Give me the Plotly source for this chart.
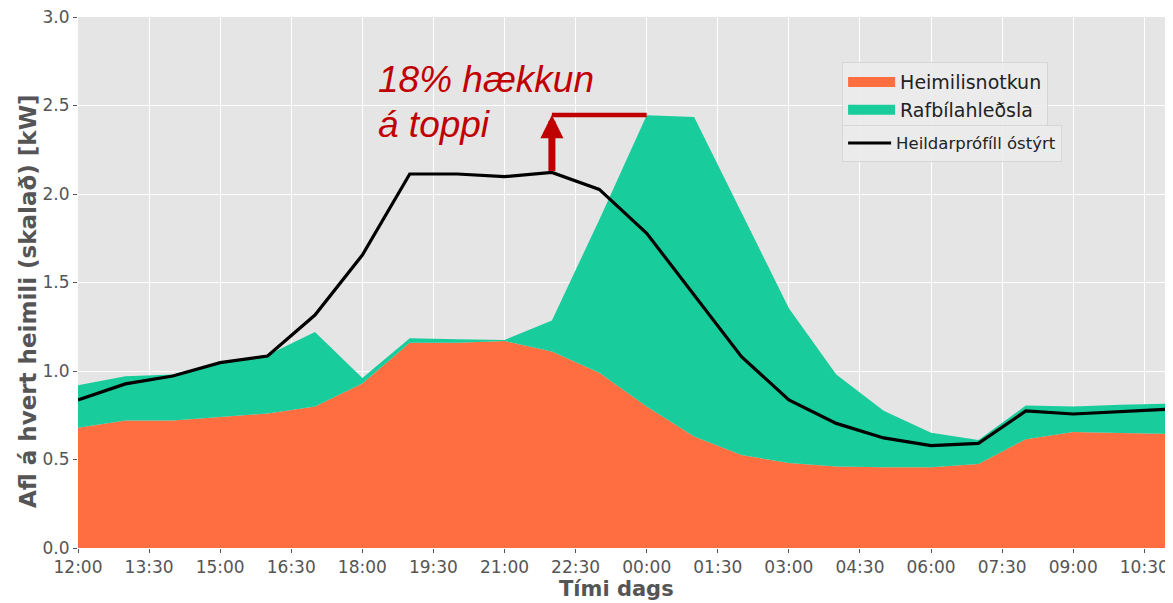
import plotly.graph_objects as go

# hours since 12:00
hours = list(range(24))
tick_vals = [0, 1.5, 3, 4.5, 6, 7.5, 9, 10.5, 12, 13.5, 15, 16.5, 18, 19.5, 21, 22.5]
tick_text = ["12:00", "13:30", "15:00", "16:30", "18:00", "19:30", "21:00", "22:30",
             "00:00", "01:30", "03:00", "04:30", "06:00", "07:30", "09:00", "10:30"]

household = [0.68, 0.72, 0.72, 0.74, 0.76, 0.80, 0.93, 1.16, 1.16, 1.17, 1.11, 0.99,
             0.80, 0.63, 0.525, 0.48, 0.46, 0.456, 0.456, 0.475, 0.615, 0.655, 0.65, 0.645]
ev_charging = [0.24, 0.25, 0.26, 0.31, 0.33, 0.42, 0.03, 0.025, 0.02, 0.005, 0.175, 0.865,
               1.645, 1.805, 1.37, 0.875, 0.52, 0.32, 0.195, 0.135, 0.19, 0.145, 0.16, 0.17]
total_unmanaged = [0.836, 0.927, 0.972, 1.047, 1.085, 1.316, 1.655, 2.113, 2.113, 2.098, 2.122, 2.026,
                   1.778, 1.429, 1.081, 0.836, 0.704, 0.622, 0.578, 0.591, 0.774, 0.757, 0.77, 0.784]

peak_hour = 10
peak_start_value = 2.122
peak_new_value = 2.446
peak_line_end = 12

ORANGE = "#FF6E40"
GREEN = "#19CC9C"
RED = "#C00000"
GRAY = "#555555"
FONT = "DejaVu Sans"

fig = go.Figure()
fig.add_trace(go.Scatter(x=hours, y=household, name="Heimilisnotkun", stackgroup="one",
                         mode="none", fillcolor=ORANGE, showlegend=False))
fig.add_trace(go.Scatter(x=hours, y=ev_charging, name="Rafbílahleðsla", stackgroup="one",
                         mode="none", fillcolor=GREEN, showlegend=False))
fig.add_trace(go.Scatter(x=hours, y=total_unmanaged, name="Heildarprófíll óstýrt", mode="lines",
                         line=dict(color="black", width=3.2), legend="legend2"))
# legend patches for the stacked areas
fig.add_trace(go.Scatter(x=[None], y=[None], name="Heimilisnotkun", mode="lines",
                         line=dict(color=ORANGE, width=14), legend="legend"))
fig.add_trace(go.Scatter(x=[None], y=[None], name="Rafbílahleðsla", mode="lines",
                         line=dict(color=GREEN, width=14), legend="legend"))

# horizontal red line at new peak
fig.add_shape(type="line", x0=peak_hour, x1=peak_line_end, y0=peak_new_value, y1=peak_new_value,
              line=dict(color=RED, width=4.5), xref="x", yref="y")
# arrow
fig.add_annotation(x=peak_hour, y=peak_new_value, ax=peak_hour, ay=peak_start_value,
                   xref="x", yref="y", axref="x", ayref="y", text="", showarrow=True,
                   arrowhead=2, arrowsize=0.66, arrowwidth=7, arrowcolor=RED, standoff=0)
fig.add_annotation(x=6.29, y=2.647, xref="x", yref="y", text="18% hækkun", showarrow=False,
                   xanchor="left", yanchor="middle",
                   font=dict(family="Liberation Sans", size=37, color=RED, style="italic"))
fig.add_annotation(x=6.29, y=2.395, xref="x", yref="y", text="á toppi", showarrow=False,
                   xanchor="left", yanchor="middle",
                   font=dict(family="Liberation Sans", size=37, color=RED, style="italic"))

# axis titles
fig.add_annotation(x=0, y=0.465, xref="paper", yref="paper", xshift=-50, textangle=-90,
                   text="<b>Afl á hvert heimili (skalað) [kW]</b>", showarrow=False,
                   xanchor="center", yanchor="middle",
                   font=dict(family=FONT, size=23, color=GRAY))
fig.add_annotation(x=0.4936, y=0, xref="paper", yref="paper", yshift=-41,
                   text="<b>Tími dags</b>", showarrow=False,
                   xanchor="center", yanchor="middle",
                   font=dict(family=FONT, size=21, color=GRAY))

# page body has an 8px margin: the figure is sized to the visible viewport
fig.update_layout(
    width=1165, height=595,
    margin=dict(l=70, r=5, t=9, b=55),
    paper_bgcolor="white",
    plot_bgcolor="#E5E5E5",
    font=dict(family=FONT, color=GRAY),
    legend=dict(x=0.701, y=0.915, xanchor="left", yanchor="top", itemwidth=47,
                bgcolor="rgba(236,236,236,0.85)", bordercolor="#D6D6D6", borderwidth=1,
                font=dict(family=FONT, size=19, color="#222222"), traceorder="normal"),
    legend2=dict(x=0.701, y=0.797, xanchor="left", yanchor="top", itemwidth=43,
                 bgcolor="rgba(236,236,236,0.85)", bordercolor="#D6D6D6", borderwidth=1,
                 font=dict(family=FONT, size=16.5, color="#222222")),
    xaxis=dict(range=[0, 23], tickvals=tick_vals, ticktext=tick_text,
               showgrid=True, gridcolor="white", gridwidth=1.2, zeroline=False,
               ticks="outside", ticklen=4, tickcolor=GRAY,
               tickfont=dict(family=FONT, size=17, color=GRAY),
               ticklabeloverflow="allow", automargin=False),
    yaxis=dict(range=[0, 3], tickvals=[0, 0.5, 1.0, 1.5, 2.0, 2.5, 3.0],
               ticktext=["0.0", "0.5", "1.0", "1.5", "2.0", "2.5", "3.0"],
               showgrid=True, gridcolor="white", gridwidth=1.2, zeroline=False,
               ticks="outside", ticklen=4, tickcolor=GRAY,
               tickfont=dict(family=FONT, size=17, color=GRAY),
               ticklabeloverflow="allow", automargin=False),
)

fig.write_html("out.html")
